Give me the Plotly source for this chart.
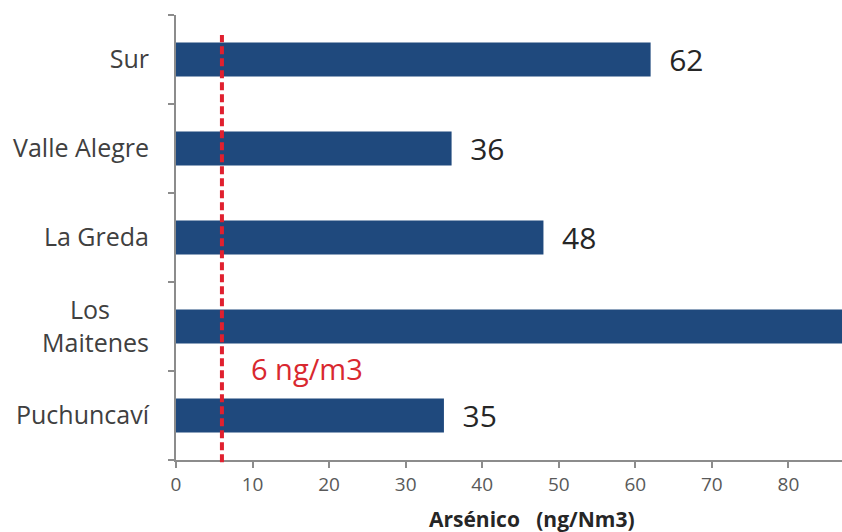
import plotly.graph_objects as go

categories = ["Puchuncaví", "Los" + "\u00a0" * 6 + "<br>Maitenes", "La Greda", "Valle Alegre", "Sur"]
values = [35, 110, 48, 36, 62]
labels = ["  35", "", "  48", "  36", "  62"]
limit_value = 6
limit_label = "6 ng/m3"
x_title = "Arsénico   (ng/Nm3)"

FONT = "Open Sans"

fig = go.Figure()
fig.add_trace(go.Bar(
    y=categories, x=values, orientation="h",
    marker=dict(color="#1f497d", line=dict(width=0)),
    text=labels, textposition="outside", cliponaxis=True,
    constraintext="none",
    textfont=dict(family=FONT, size=30, color="#262626"),
    width=0.38,
))

fig.add_shape(type="line", xref="x", yref="paper",
              x0=limit_value, x1=limit_value, y0=-0.005, y1=0.955,
              line=dict(color="#e0202f", width=4, dash="8px,4px"))
fig.add_annotation(xref="x", yref="y", x=9.6, y=0.53,
                   text=limit_label, showarrow=False, xanchor="left",
                   font=dict(family=FONT, size=29, color="#d9282f"))
fig.add_annotation(xref="paper", yref="paper", x=0.534, y=-0.132,
                   text="<b>" + x_title + "</b>", showarrow=False,
                   xanchor="center", yanchor="middle",
                   font=dict(family=FONT, size=21, color="#262626"))

fig.update_layout(
    width=842, height=532,
    margin=dict(l=176, r=0, t=15, b=72, autoexpand=False),
    plot_bgcolor="white", paper_bgcolor="white",
    showlegend=False,
    font=dict(family=FONT),
)
fig.update_xaxes(range=[0, 87], dtick=10, showgrid=False, zeroline=False,
                 showline=True, linecolor="#8c8c8c", linewidth=2,
                 ticks="outside", ticklen=6, tickcolor="#8c8c8c", tickwidth=1.5,
                 automargin=False,
                 tickfont=dict(family=FONT, size=19, color="#595959"))
fig.update_yaxes(range=[-0.5, 4.5], showgrid=False, zeroline=False,
                 showline=True, linecolor="#8c8c8c", linewidth=2,
                 ticks="outside", ticklen=6, tickcolor="#8c8c8c", tickwidth=1.5,
                 tickson="boundaries", ticklabelstandoff=20, automargin=False,
                 tickfont=dict(family=FONT, size=25, color="#404040"))

fig.write_html(
    "out.html",
    config={"displayModeBar": False},
    post_script="document.body.style.margin='0';document.body.style.overflow='hidden';",
)
